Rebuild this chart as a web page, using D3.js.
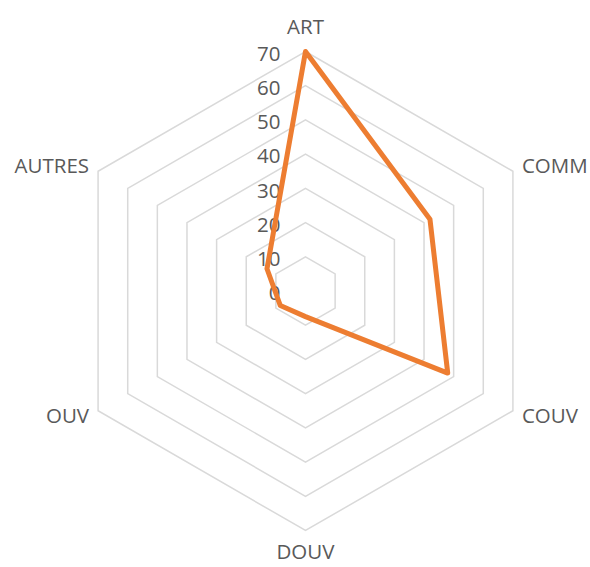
<!DOCTYPE html>
<html>
<head>
<meta charset="utf-8">
<script src="https://cdn.jsdelivr.net/npm/d3@7"></script>
<style>
  body { margin: 0; background: #fff; }
  svg { display: block; }
</style>
</head>
<body>
<div id="chart"></div>
<script>
// categories and values
const categories = ['ART', 'COMM', 'COUV', 'DOUV', 'OUV', 'AUTRES'];
const values = [70, 42, 48, 7.5, 8.5, 13];
const ticks = [0, 10, 20, 30, 40, 50, 60, 70];

const width = 590;
const height = 567;
const cx = 305.5, cy = 291;
const radius = 239.5;

const svg = d3.select('#chart')
  .append('svg')
  .attr('width', width)
  .attr('height', height)
  .style('font-family', '"Open Sans", sans-serif');

const r = d3.scaleLinear().domain([0, 70]).range([0, radius]);
const angle = d3.scalePoint().domain(categories).range([0, 2 * Math.PI * 5 / 6]);

const g = svg.append('g').attr('transform', `translate(${cx},${cy})`);

// hexagon rings
const ring = d3.lineRadial()
  .angle(c => angle(c))
  .curve(d3.curveLinearClosed);

g.append('g')
  .selectAll('path')
  .data(ticks.filter(t => t > 0))
  .join('path')
  .attr('d', t => ring.radius(() => r(t))(categories))
  .attr('fill', 'none')
  .attr('stroke', '#d9d9d9')
  .attr('stroke-width', 1.5);

// tick labels on the ART axis
g.append('g')
  .selectAll('text')
  .data(ticks)
  .join('text')
  .attr('x', -25)
  .attr('y', t => -r(t) + 2)
  .attr('dy', '0.35em')
  .attr('text-anchor', 'end')
  .attr('font-size', 20.5)
  .attr('fill', '#595959')
  .text(t => t);

// category labels
g.append('g')
  .selectAll('text')
  .data(categories)
  .join('text')
  .attr('x', c => {
    const s = Math.sin(angle(c));
    return s * radius + (Math.abs(s) < 0.01 ? 0 : Math.sign(s) * 9);
  })
  .attr('y', c => {
    const a = angle(c);
    const y = -Math.cos(a) * radius;
    if (Math.abs(Math.sin(a)) < 0.01) return y + (Math.cos(a) > 0 ? -25 : 21);
    return y + (Math.cos(a) > 0 ? -5 : 5);
  })
  .attr('dy', '0.35em')
  .attr('text-anchor', c => {
    const s = Math.sin(angle(c));
    return Math.abs(s) < 0.01 ? 'middle' : (s > 0 ? 'start' : 'end');
  })
  .attr('font-size', 20.5)
  .attr('fill', '#595959')
  .text(c => c);

// series line
const line = d3.lineRadial()
  .angle((d, i) => angle(categories[i]))
  .radius(d => r(d))
  .curve(d3.curveLinearClosed);

g.append('path')
  .datum(values)
  .attr('d', line)
  .attr('fill', 'none')
  .attr('stroke', '#ed7d31')
  .attr('stroke-width', 5)
  .attr('stroke-linejoin', 'round');
</script>
</body>
</html>
